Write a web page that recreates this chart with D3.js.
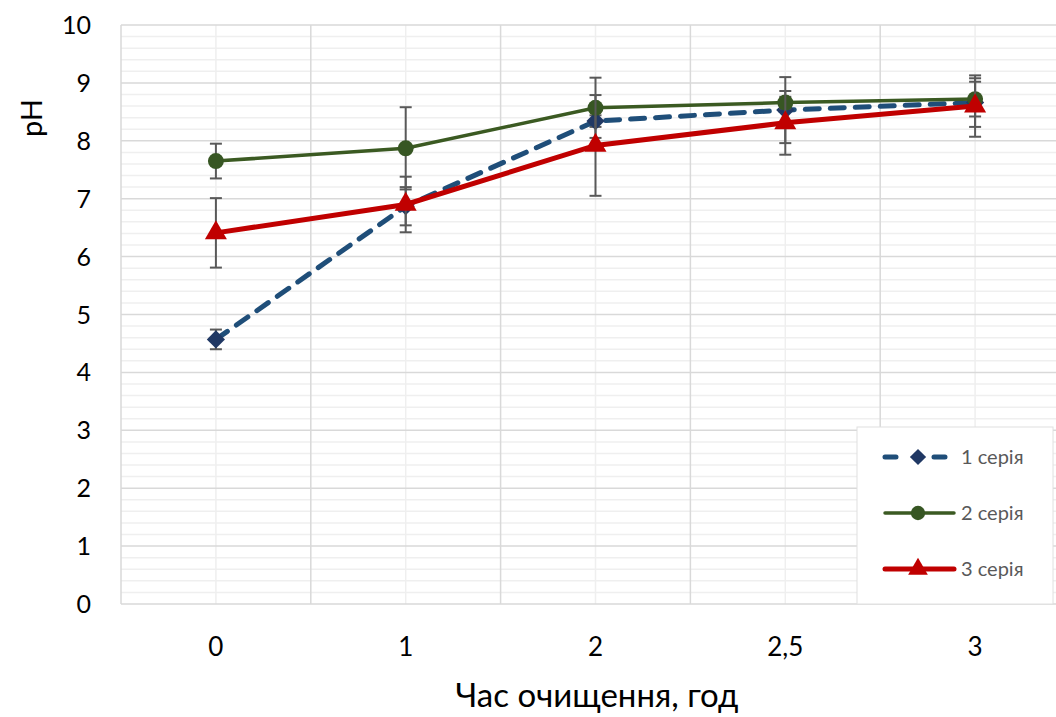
<!DOCTYPE html>
<html>
<head>
<meta charset="utf-8">
<script src="https://cdn.jsdelivr.net/npm/d3@7"></script>
<style>
  body { margin: 0; background: #fff; }
  text { font-family: Lato, "Open Sans", sans-serif; }
</style>
</head>
<body>
<div id="chart"></div>
<script>
// Data
var categories = ["0", "1", "2", "2,5", "3"];
var series1 = [4.57, 6.87, 8.34, 8.53, 8.66];
var series2 = [7.65, 7.87, 8.57, 8.66, 8.72];
var series3 = [6.41, 6.90, 7.92, 8.31, 8.60];
var err1 = [0.17, 0.33, 0.10, 0.57, 0.42];
var err2 = [0.30, 0.71, 0.52, 0.10, 0.30];
var err3 = [0.60, 0.48, 0.87, 0.55, 0.53];
var seriesNames = ["1 серія", "2 серія", "3 серія"];
var yTicks = [0, 1, 2, 3, 4, 5, 6, 7, 8, 9, 10];

var svgWidth = 1056;
var svgHeight = 717;
var plot = { left: 121, top: 25, right: 1070, bottom: 604 };

var svg = d3.select("#chart")
  .append("svg")
  .attr("width", svgWidth)
  .attr("height", svgHeight);

var x = d3.scaleBand()
  .domain(categories)
  .range([plot.left, plot.right]);

var y = d3.scaleLinear()
  .domain([0, 10])
  .range([plot.bottom, plot.top]);

var grid = svg.append("g");

// minor horizontal lines every 0.2
var minorY = d3.range(0, 10.01, 0.2).filter(function(v) { return Math.abs(v - Math.round(v)) > 0.01; });
grid.selectAll(".minorY")
  .data(minorY)
  .enter().append("line")
  .attr("x1", plot.left).attr("x2", plot.right)
  .attr("y1", d => y(d)).attr("y2", d => y(d))
  .attr("stroke", "#efefef").attr("stroke-width", 1.5);

// minor vertical lines at category centres
grid.selectAll(".minorX")
  .data(categories)
  .enter().append("line")
  .attr("x1", d => x(d) + x.bandwidth() / 2).attr("x2", d => x(d) + x.bandwidth() / 2)
  .attr("y1", plot.top).attr("y2", plot.bottom)
  .attr("stroke", "#efefef").attr("stroke-width", 1.5);

// major horizontal lines
grid.selectAll(".majorY")
  .data(yTicks)
  .enter().append("line")
  .attr("x1", plot.left).attr("x2", plot.right)
  .attr("y1", d => y(d)).attr("y2", d => y(d))
  .attr("stroke", "#d9d9d9").attr("stroke-width", 1.5);

// major vertical lines at band edges
var edges = categories.map(d => x(d)).concat([plot.right]);
grid.selectAll(".majorX")
  .data(edges)
  .enter().append("line")
  .attr("x1", d => d).attr("x2", d => d)
  .attr("y1", plot.top).attr("y2", plot.bottom)
  .attr("stroke", "#d9d9d9").attr("stroke-width", 1.5);

// y tick labels
svg.append("g").selectAll("text")
  .data(yTicks)
  .enter().append("text")
  .attr("x", 91)
  .attr("y", d => y(d))
  .attr("dy", "0.36em")
  .attr("text-anchor", "end")
  .attr("font-size", 25)
  .attr("fill", "#000")
  .text(d => d);

// x tick labels
svg.append("g").selectAll("text")
  .data(categories)
  .enter().append("text")
  .attr("x", d => x(d) + x.bandwidth() / 2)
  .attr("y", 656)
  .attr("text-anchor", "middle")
  .attr("font-size", 26)
  .attr("fill", "#000")
  .text(d => d);

// axis titles
svg.append("text")
  .attr("transform", "translate(42, 118) rotate(-90)")
  .attr("text-anchor", "middle")
  .attr("font-size", 29)
  .attr("fill", "#000")
  .text("pH");

svg.append("text")
  .attr("x", 597)
  .attr("y", 707)
  .attr("text-anchor", "middle")
  .attr("font-size", 33)
  .attr("fill", "#000")
  .text("Час очищення, год");

var diamond = { draw: function(ctx, size) {
  var r = Math.sqrt(size / 2);
  ctx.moveTo(0, -r); ctx.lineTo(r, 0); ctx.lineTo(0, r); ctx.lineTo(-r, 0); ctx.closePath();
} };

var allSeries = [
  { values: series1, err: err1, color: "#1f4e79", marker: "#203864", width: 5, dash: "14,11", symbol: diamond, size: 165 },
  { values: series2, err: err2, color: "#3b5a22", marker: "#375623", width: 3.5, dash: null, symbol: d3.symbolCircle, size: 200 },
  { values: series3, err: err3, color: "#c00000", marker: "#c00000", width: 5, dash: null, symbol: d3.symbolTriangle, size: 210 }
];

var line = d3.line()
  .x((d, i) => x(categories[i]) + x.bandwidth() / 2)
  .y(d => y(d));

allSeries.forEach(function(s) {
  var g = svg.append("g");
  var pts = s.values.map(function(v, i) {
    return { cx: x(categories[i]) + x.bandwidth() / 2, v: v, e: s.err[i] };
  });

  // error bars
  var eb = g.selectAll(".eb").data(pts).enter().append("g");
  eb.append("line")
    .attr("x1", d => d.cx).attr("x2", d => d.cx)
    .attr("y1", d => y(d.v + d.e)).attr("y2", d => y(d.v - d.e))
    .attr("stroke", "#595959").attr("stroke-width", 2);
  [1, -1].forEach(function(sign) {
    eb.append("line")
      .attr("x1", d => d.cx - 6).attr("x2", d => d.cx + 6)
      .attr("y1", d => y(d.v + sign * d.e)).attr("y2", d => y(d.v + sign * d.e))
      .attr("stroke", "#595959").attr("stroke-width", 2);
  });

  g.append("path")
    .datum(s.values)
    .attr("d", line)
    .attr("fill", "none")
    .attr("stroke", s.color)
    .attr("stroke-width", s.width)
    .attr("stroke-linecap", "round")
    .attr("stroke-dasharray", s.dash);

  g.selectAll(".m").data(pts).enter().append("path")
    .attr("d", d3.symbol().type(s.symbol).size(s.size))
    .attr("transform", d => "translate(" + d.cx + "," + y(d.v) + ")")
    .attr("fill", s.marker);
});

// legend
var legend = svg.append("g");
legend.append("rect")
  .attr("x", 857).attr("y", 427)
  .attr("width", 196).attr("height", 177)
  .attr("fill", "#fff")
  .attr("stroke", "#e0e0e0")
  .attr("stroke-width", 1);

var legendY = [457, 513, 569];
allSeries.forEach(function(s, i) {
  var ly = legendY[i];
  if (s.dash) {
    legend.append("line")
      .attr("x1", 885).attr("x2", 947).attr("y1", ly).attr("y2", ly)
      .attr("stroke", s.color).attr("stroke-width", s.width)
      .attr("stroke-linecap", "round").attr("stroke-dasharray", "11,38");
  } else {
    legend.append("line")
      .attr("x1", 885).attr("x2", 954).attr("y1", ly).attr("y2", ly)
      .attr("stroke", s.color).attr("stroke-width", s.width)
      .attr("stroke-linecap", "round");
  }
  legend.append("path")
    .attr("d", d3.symbol().type(s.symbol).size(s.size * 0.8))
    .attr("transform", "translate(918," + ly + ")")
    .attr("fill", s.marker);
  legend.append("text")
    .attr("x", 961).attr("y", ly)
    .attr("dy", "0.36em")
    .attr("font-size", 20)
    .attr("fill", "#595959")
    .text(seriesNames[i]);
});
</script>
</body>
</html>
